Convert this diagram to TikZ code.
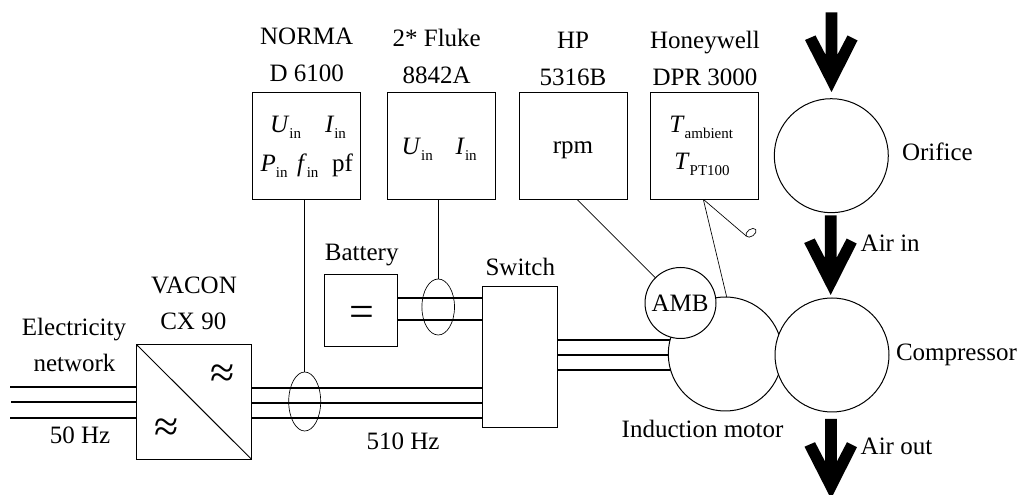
\documentclass[tikz,border=0pt]{standalone}
\usepackage{fontspec}
\setmainfont{Liberation Serif}
\usetikzlibrary{shapes.geometric}
\def\px{0.75pt}
\newcommand{\subbed}[2]{\textit{#1}\raisebox{-4.5pt}{\fontsize{11.25pt}{12pt}\selectfont #2}}
\tikzset{
  txt/.style={inner sep=0pt,outer sep=0pt,anchor=base,font=\fontsize{18.75pt}{20pt}\selectfont},
  txtl/.style={txt,anchor=base west},
  bigsym/.style={inner sep=0pt,outer sep=0pt,anchor=center,font=\fontsize{33pt}{35pt}\selectfont},
  boxn/.style={draw=black,fill=white,line width=0.75pt,rectangle,inner sep=0pt,outer sep=0pt},
  instr/.style={boxn,minimum width=107.6*\px,minimum height=107*\px},
  rnd/.style={draw=black,fill=white,line width=0.75pt,circle,inner sep=0pt,outer sep=0pt},
  bigc/.style={rnd,minimum size=114*\px},
  clamp/.style={draw=black,line width=0.5pt,ellipse,inner sep=0pt,outer sep=0pt},
  phase/.style={draw=black,line width=1.5pt},
  signal/.style={draw=black,line width=0.5pt},
  flow/.style={fill=black,draw=none}
}
\newcommand{\flowarrow}[1]{\fill[flow,shift={(#1)}] (0,0) -- (26,-51.5) -- (16,-56.5) -- (5.8,-37) -- (5.8,-79.7) -- (-5.8,-79.7) -- (-5.8,-37) -- (-16,-56.5) -- (-26.5,-52) -- cycle;}
\begin{document}
\begin{tikzpicture}[x=0.75pt,y=-0.75pt]
\clip (0,0) rectangle (1022,495);
% boxes
\node[instr] (norma) at (306.5,145.8) {};
\node[instr] (fluke) at (441.2,145.8) {};
\node[instr] (hp) at (573.3,145.8) {};
\node[instr] (honey) at (704.5,145.8) {};
\node[boxn,minimum width=114.6*\px,minimum height=114.3*\px] (conv) at (194,401.9) {};
\node[boxn,minimum width=72.6*\px,minimum height=72.4*\px] (batt) at (361,310.5) {};
\node[boxn,minimum width=75*\px,minimum height=140.6*\px] (sw) at (520.2,357) {};
% coordinates for free ends
\coordinate (g1) at (10,387); \coordinate (g2) at (11,402); \coordinate (g3) at (10,418);
\coordinate (c1) at (300,387.7); \coordinate (c2) at (300,403); \coordinate (c3) at (300,418);
\coordinate (b1) at (440,298); \coordinate (b2) at (440,320);
\coordinate (m1) at (600,339.7); \coordinate (m2) at (600,355); \coordinate (m3) at (600,369.7);
\coordinate (mo) at (690,354);
% power lines
\draw[phase] (g1) -- (g1 -| conv.west);
\draw[phase] (g2) -- (g2 -| conv.west);
\draw[phase] (g3) -- (g3 -| conv.west);
\draw[phase] (c1 -| conv.east) -- (c1 -| sw.west);
\draw[phase] (c2 -| conv.east) -- (c2 -| sw.west);
\draw[phase] (c3 -| conv.east) -- (c3 -| sw.west);
\draw[phase] (b1 -| batt.east) -- (b1 -| sw.west);
\draw[phase] (b2 -| batt.east) -- (b2 -| sw.west);
\draw[phase] (m1 -| sw.east) -- (m1 -| mo);
\draw[phase] (m2 -| sw.east) -- (m2 -| mo);
\draw[phase] (m3 -| sw.east) -- (m3 -| mo);
% machines
\node[bigc] (motor) at (725.3,354) {};
\node[bigc] (comp) at (832,355) {};
\node[bigc] (orifice) at (831.3,155.7) {};
\node[rnd,minimum size=71*\px] (amb) at (680.5,303) {};
\draw[line width=0.75pt] (conv.north west) -- (conv.south east);
% current clamps
\node[clamp,minimum width=32*\px,minimum height=59*\px] (cl1) at (304.7,401.5) {};
\node[clamp,minimum width=32.6*\px,minimum height=56*\px] (cl2) at (438.2,307) {};
\draw[signal] (cl1.north) -- (cl1.north |- norma.south);
\draw[signal] (cl2.north) -- (cl2.north |- fluke.south);
% sensor lines
\coordinate (hpout) at (577,199.3);
\coordinate (hoout) at (703.3,199.3);
\coordinate (motin) at (726.7,297);
\node[clamp,minimum width=11.5*\px,minimum height=7*\px,rotate=35] (probe) at (751,232.8) {};
\draw[signal] (hpout) -- (amb);
\draw[signal] (hoout) -- (motin);
\draw[signal] (hoout) -- (probe.west);
% flow arrows
\flowarrow{831.5,92}
\flowarrow{830.7,295}
\flowarrow{831,498.7}
% labels
\node[txt] (t1) at (306.7,45) {NORMA};
\node[txt] (t2) at (306.7,82) {D 6100};
\node[txt] (t3) at (436.7,47) {2* Fluke};
\node[txt] (t4) at (436.7,84) {8842A};
\node[txt] (t5) at (573,49) {HP};
\node[txt] (t6) at (573,85.7) {5316B};
\node[txt] (t7) at (705,49) {Honeywell};
\node[txt] (t8) at (705,86) {DPR 3000};
\node[txtl] (u1) at (270,133) {\subbed{U}{in}};
\node[txtl] (i1) at (325,133) {\subbed{I}{in}};
\node[txtl] (p1) at (260.7,171.7) {\subbed{P}{in}};
\node[txtl] (f1) at (297,171.7) {\subbed{f}{in}};
\node[txtl] (pf) at (332,171.7) {pf};
\node[txtl] (u2) at (401.7,155) {\subbed{U}{in}};
\node[txtl] (i2) at (455.7,155) {\subbed{I}{in}};
\node[txt] (rpm) at (573,154) {rpm};
\node[txtl] (ta) at (669.3,132.7) {\subbed{T}{ambient}};
\node[txtl] (tp) at (674.3,170) {\subbed{T}{PT100}};
\node[txtl] (orl) at (902,161) {Orifice};
\node[txtl] (ain) at (860.7,251.7) {Air in};
\node[txtl] (cpl) at (896,360.7) {Compressor};
\node[txtl] (aout) at (860.7,454.3) {Air out};
\node[txtl] (iml) at (621.7,437.7) {Induction motor};
\node[txt] (ambl) at (680,312) {AMB};
\node[txt] (v1) at (194,293.3) {VACON};
\node[txt] (v2) at (193.3,330) {CX 90};
\node[txt] (e1) at (74,336) {Electricity};
\node[txt] (e2) at (74.5,371.7) {network};
\node[txt] (hz1) at (80,444) {50 Hz};
\node[txt] (hz2) at (403,450) {510 Hz};
\node[txt] (bl) at (361.7,260.7) {Battery};
\node[txt] (sl) at (520.3,275.7) {Switch};
\node[bigsym] (ap1) at (222.7,376) {≈};
\node[bigsym] (ap2) at (166.7,430) {≈};
\node[bigsym] (eq) at (361.5,316) {=};
\end{tikzpicture}
\end{document}
